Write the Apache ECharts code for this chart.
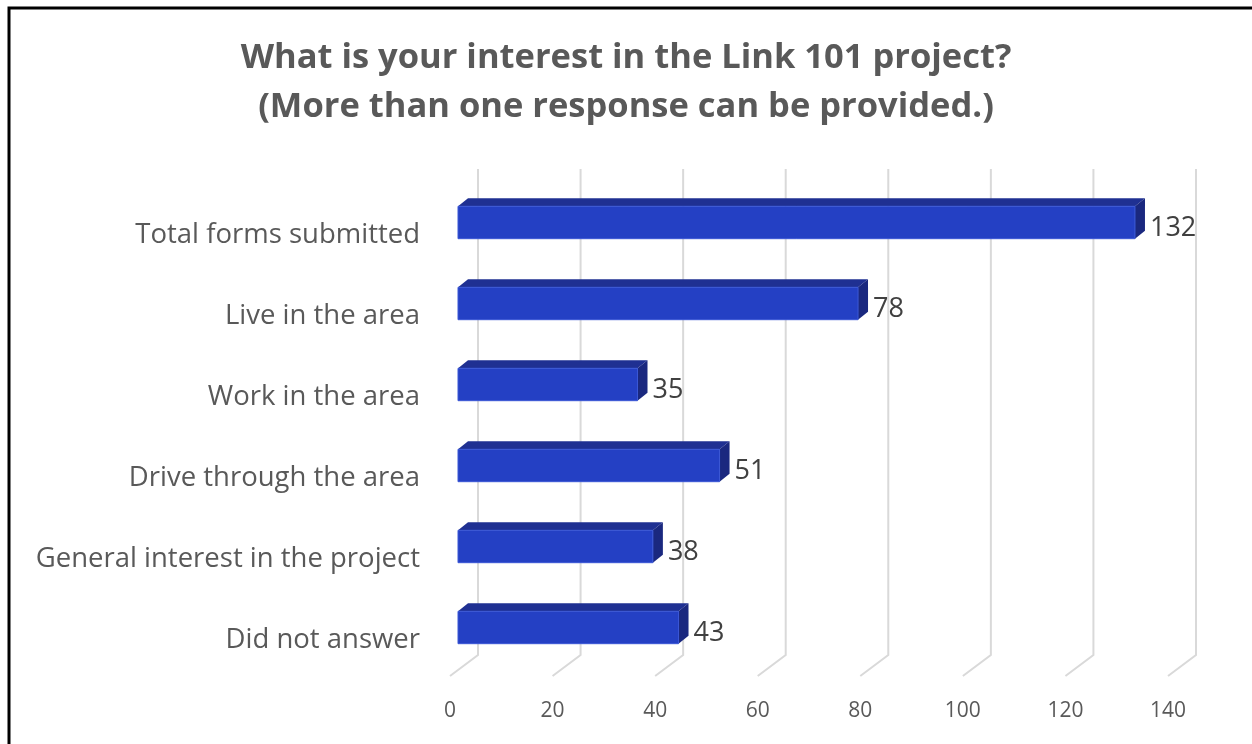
<!DOCTYPE html>
<html>
<head>
<meta charset="utf-8">
<script src="https://cdn.jsdelivr.net/npm/echarts@6/dist/echarts.min.js"></script>
<style>
  html, body { margin: 0; padding: 0; background: #fff; }
  #main { width: 1252px; height: 744px; }
</style>
</head>
<body>
<div id="main"></div>
<script>
// data
var categories = ['Total forms submitted', 'Live in the area', 'Work in the area',
    'Drive through the area', 'General interest in the project', 'Did not answer'];
var responses = [132, 78, 35, 51, 38, 43];
var tickValues = [0, 20, 40, 60, 80, 100, 120, 140];

var DX = 10, DY = -8;          // bar depth
var BX = 20, BY = -13;         // back wall offset
var fontFam = '"Open Sans", "Noto Sans", sans-serif';

var myChart = echarts.init(document.getElementById('main'));

// 3d-ish bar
function renderBar(params, api) {
    var v = api.value(1), idx = api.value(0);
    var p0 = api.coord([0, idx]);
    var p1 = api.coord([v, idx]);
    var h = api.size([0, 1])[1] * 0.4;
    var x0 = p0[0], x1 = p1[0], yt = p0[1] - h / 2, yb = p0[1] + h / 2;
    return {
        type: 'group',
        children: [
            { type: 'polygon', shape: { points: [[x0, yt], [x0 + DX, yt + DY], [x1 + DX, yt + DY], [x1, yt]] },
              style: { fill: '#1f3092' } },
            { type: 'polygon', shape: { points: [[x1, yt], [x1 + DX, yt + DY], [x1 + DX, yb + DY], [x1, yb]] },
              style: { fill: '#1a287f' } },
            { type: 'rect', shape: { x: x0, y: yt, width: x1 - x0, height: h },
              style: { fill: '#2440c4', stroke: '#3a57d6', lineWidth: 1 } },
            { type: 'text', x: x1 + DX + 5, y: p0[1] + 6,
              style: { text: String(v), fill: '#404040', font: '27px ' + fontFam, verticalAlign: 'middle' } }
        ]
    };
}

// back wall grid lines + floor
function renderGridLine(params, api) {
    var v = api.value(0);
    var band = api.size([0, 1])[1];
    var top = api.coord([v, 0]);
    var bot = api.coord([v, categories.length - 1]);
    var yTop = top[1] - band / 2, yBot = bot[1] + band / 2;
    var x = top[0];
    return {
        type: 'polyline',
        shape: { points: [[x + BX, yTop + BY], [x + BX, yBot + BY], [x - 8, yBot + 8]] },
        style: { stroke: '#d9d9d9', lineWidth: 2, fill: null },
        z2: 0
    };
}

var option = {
    animation: false,
    title: {
        text: 'What is your interest in the Link 101 project?\n(More than one response can be provided.)',
        left: 'center',
        top: 29,
        textStyle: { fontFamily: fontFam, fontSize: 34.5, fontWeight: 'bold', color: '#595959', lineHeight: 49 }
    },
    graphic: [{
        type: 'rect', shape: { x: 9, y: 8, width: 1400, height: 900 },
        style: { fill: null, stroke: '#000', lineWidth: 3 }
    }],
    grid: { left: 458, right: 76, top: 182, bottom: 76 },
    xAxis: {
        type: 'value', min: 0, max: 140, interval: 20,
        splitLine: { show: false }, axisLine: { show: false }, axisTick: { show: false },
        axisLabel: { color: '#595959', fontFamily: fontFam, fontSize: 21, margin: 33, padding: [0, 16, 0, 0] }
    },
    yAxis: {
        type: 'category', data: categories, inverse: true,
        axisLine: { show: false }, axisTick: { show: false },
        axisLabel: { color: '#595959', fontFamily: fontFam, fontSize: 27.5, margin: 38,
            verticalAlign: 'top', lineHeight: 25 }
    },
    series: [
        {
            type: 'custom', renderItem: renderGridLine, silent: true, z: 1,
            data: tickValues.map(function (t) { return [t]; }),
            encode: { x: 0 }
        },
        {
            type: 'custom', renderItem: renderBar, z: 2,
            data: responses.map(function (r, i) { return [i, r]; }),
            encode: { x: 1, y: 0 }
        }
    ]
};
myChart.setOption(option);
</script>
</body>
</html>
